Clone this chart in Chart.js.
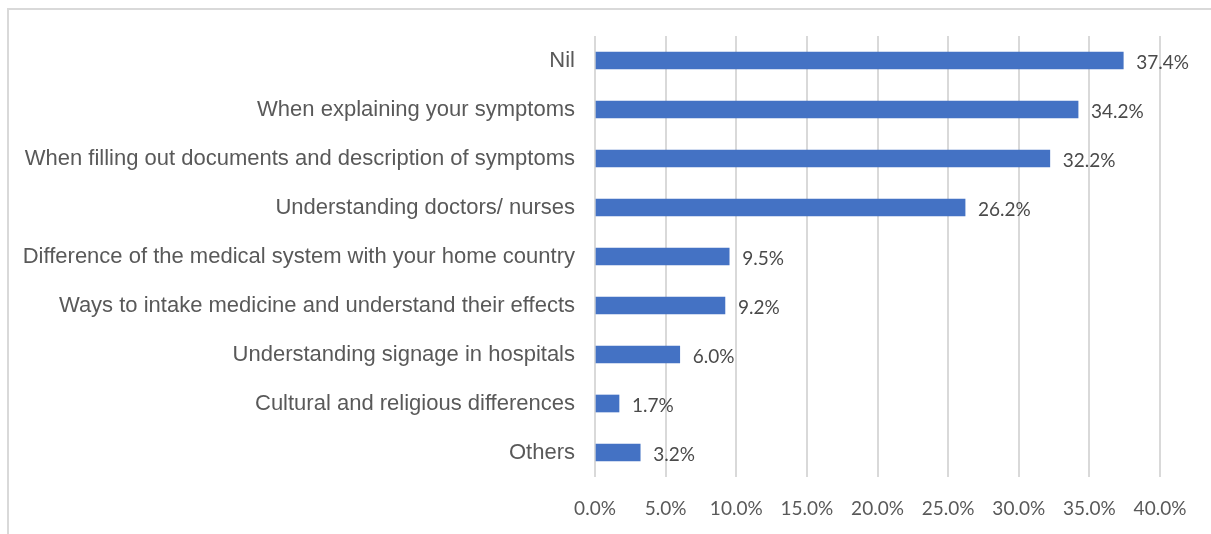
<!DOCTYPE html>
<html>
<head>
<meta charset="utf-8">
<script src="https://cdn.jsdelivr.net/npm/chart.js@4"></script>
<style>
  html, body { margin: 0; padding: 0; background: #fff; overflow: hidden; }
  #frame {
    position: absolute; left: 7px; top: 8px; width: 1300px; height: 600px;
    border-top: 2px solid #d9d9d9; border-left: 2px solid #d9d9d9;
  }
  #wrap { position: absolute; left: 0; top: 0; width: 1211px; height: 534px; }
</style>
</head>
<body>
<div id="frame"></div>
<div id="wrap"><canvas id="chart"></canvas></div>
<script>
// ── DADOS ─────────────────────────────────────────────────────────

const categorias = [
  'Nil',
  'When explaining your symptoms',
  'When filling out documents and description of symptoms',
  'Understanding doctors/ nurses',
  'Difference of the medical system with your home country',
  'Ways to intake medicine and understand their effects',
  'Understanding signage in hospitals',
  'Cultural and religious differences',
  'Others'
];
const percentagens = [37.4, 34.2, 32.2, 26.2, 9.5, 9.2, 6.0, 1.7, 3.2];
const eixoMin = 0;
const eixoMax = 40;
const eixoPasso = 5;

// ── FORMATAÇÃO ────────────────────────────────────────────────────

function fmtPct(n) {
  return Number(n).toFixed(1) + '%';
}

// rótulos à direita de cada barra
const rotulosBarras = {
  id: 'rotulosBarras',
  afterDatasetsDraw(chart) {
    const ctx = chart.ctx;
    const meta = chart.getDatasetMeta(0);
    ctx.save();
    ctx.font = '19px Lato';
    ctx.fillStyle = '#4a4a4a';
    ctx.textAlign = 'left';
    ctx.textBaseline = 'middle';
    meta.data.forEach((bar, i) => {
      ctx.fillText(fmtPct(chart.data.datasets[0].data[i]), bar.x + 13, bar.y + 2);
    });
    ctx.restore();
  }
};

// ── GRÁFICO ───────────────────────────────────────────────────────

const gridC = '#d9d9d9';
const tickC = '#595959';

new Chart(document.getElementById('chart'), {
  type: 'bar',
  data: {
    labels: categorias,
    datasets: [{
      data: percentagens,
      backgroundColor: '#4472c4',
      borderWidth: 0,
      barThickness: 17,
    }],
  },
  options: {
    indexAxis: 'y',
    responsive: true,
    maintainAspectRatio: false,
    animation: false,
    layout: { padding: { top: 36, right: 51, left: 0, bottom: 0 } },
    plugins: { legend: { display: false }, tooltip: { enabled: false } },
    scales: {
      x: {
        min: eixoMin,
        max: eixoMax,
        grid: { color: gridC, lineWidth: 2, drawTicks: false },
        border: { display: false },
        ticks: {
          stepSize: eixoPasso,
          color: tickC,
          padding: 20,
          font: { family: 'Lato', size: 19 },
          callback: v => fmtPct(v),
        },
        afterFit: s => { s.height = 57; },
      },
      y: {
        grid: { display: false, drawTicks: false },
        border: { display: false },
        ticks: {
          color: tickC,
          padding: 20,
          font: { family: '"Liberation Sans", Arial', size: 22 },
        },
        afterFit: s => { s.width = 595; },
      },
    },
  },
  plugins: [rotulosBarras],
});
</script>
</body>
</html>
